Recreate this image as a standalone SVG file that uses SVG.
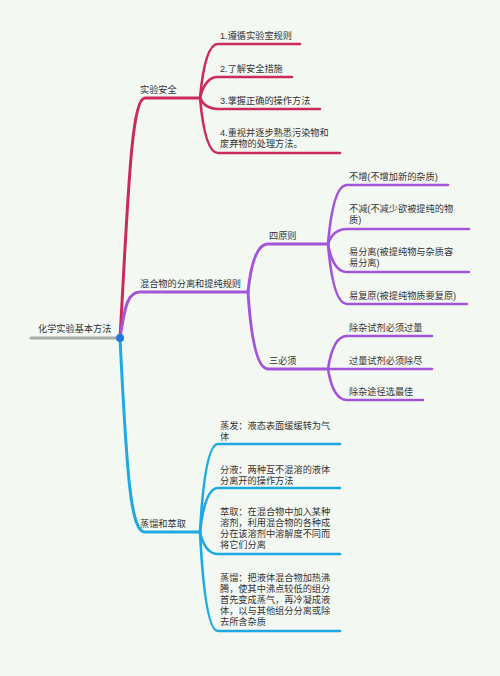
<svg xmlns="http://www.w3.org/2000/svg" width="500" height="676" viewBox="0 0 500 676">
<style>
text{font-family:"Liberation Sans","Noto Sans CJK SC",sans-serif;font-size:9.2px;fill:#333}
.c{fill:none;stroke-linecap:round;stroke-linejoin:round}
.r{stroke:#cb2b5c}
.p{stroke:#a454d9}
.b{stroke:#1fa9e3}
.m{stroke-width:3}
.l{stroke-width:2.6}
</style>
<rect width="500" height="676" fill="#f4f8f3"/>
<g id="connectors">
<path class="c m" stroke="#aaaaaa" d="M31,338 H120"/>
<path class="c m r" d="M120,338 C128,200 131,98 145,98 H200"/>
<path class="c m p" d="M120,338 C125,305 128,292 140,292 H248"/>
<path class="c m b" d="M120,338 C127,480 131,532 145,532 H200"/>
<path class="c l r" d="M200,98 Q205,44 218,44 H300"/>
<path class="c l r" d="M200,98 Q205,77 218,77 H292"/>
<path class="c l r" d="M200,98 Q205,109 218,109 H320"/>
<path class="c l r" d="M200,98 Q205,153 218,153 H340"/>
<path class="c m p" d="M248,292 Q253,244 268,244 H328"/>
<path class="c m p" d="M248,292 Q253,369 268,369 H328"/>
<path class="c l p" d="M328,244 Q333,185 347,185 H448"/>
<path class="c l p" d="M328,244 Q333,229 347,229 H469"/>
<path class="c l p" d="M328,244 Q333,272 347,272 H469"/>
<path class="c l p" d="M328,244 Q333,304 347,304 H467"/>
<path class="c l p" d="M328,369 Q333,336 347,336 H432"/>
<path class="c l p" d="M328,369 Q333,369 347,369 H432"/>
<path class="c l p" d="M328,369 Q333,400 347,400 H423"/>
<path class="c l b" d="M200,532 Q205,444 218,444 H340"/>
<path class="c l b" d="M200,532 Q205,488 218,488 H340"/>
<path class="c l b" d="M200,532 Q205,554 218,554 H340"/>
<path class="c l b" d="M200,532 Q205,631 218,631 H340"/>
<circle cx="120" cy="338" r="4" fill="#1f78e0"/>
</g>
<g id="root"><text x="38" y="332">化学实验基本方法</text></g>
<g id="n-safety"><text x="140" y="93">实验安全</text></g>
<g id="n-s1"><text x="220" y="39">1.遵循实验室规则</text></g>
<g id="n-s2"><text x="220" y="72">2.了解安全措施</text></g>
<g id="n-s3"><text x="220" y="104">3.掌握正确的操作方法</text></g>
<g id="n-s4"><text x="220" y="136">4.重视并逐步熟悉污染物和<tspan x="220" dy="11">废弃物的处理方法。</tspan></text></g>
<g id="n-mix"><text x="140" y="287">混合物的分离和提纯规则</text></g>
<g id="n-four"><text x="269" y="239">四原则</text></g>
<g id="n-f1"><text x="349" y="180">不增(不增加新的杂质)</text></g>
<g id="n-f2"><text x="349" y="212">不减(不减少欲被提纯的物<tspan x="349" dy="11">质)</tspan></text></g>
<g id="n-f3"><text x="349" y="255">易分离(被提纯物与杂质容<tspan x="349" dy="11">易分离)</tspan></text></g>
<g id="n-f4"><text x="349" y="299">易复原(被提纯物质要复原)</text></g>
<g id="n-three"><text x="269" y="364">三必须</text></g>
<g id="n-t1"><text x="349" y="331">除杂试剂必须过量</text></g>
<g id="n-t2"><text x="349" y="364">过量试剂必须除尽</text></g>
<g id="n-t3"><text x="349" y="395">除杂途径选最佳</text></g>
<g id="n-dist"><text x="140" y="527">蒸馏和萃取</text></g>
<g id="n-d1"><text x="220" y="429">蒸发：液态表面缓缓转为气<tspan x="220" dy="11">体</tspan></text></g>
<g id="n-d2"><text x="220" y="473">分液：两种互不混溶的液体<tspan x="220" dy="11">分离开的操作方法</tspan></text></g>
<g id="n-d3"><text x="220" y="515">萃取：在混合物中加入某种<tspan x="220" dy="11">溶剂，利用混合物的各种成</tspan><tspan x="220" dy="11">分在该溶剂中溶解度不同而</tspan><tspan x="220" dy="11">将它们分离</tspan></text></g>
<g id="n-d4"><text x="220" y="581">蒸馏：把液体混合物加热沸<tspan x="220" dy="11">腾，使其中沸点较低的组分</tspan><tspan x="220" dy="11">首先变成蒸气，再冷凝成液</tspan><tspan x="220" dy="11">体，以与其他组分分离或除</tspan><tspan x="220" dy="11">去所含杂质</tspan></text></g>
</svg>
